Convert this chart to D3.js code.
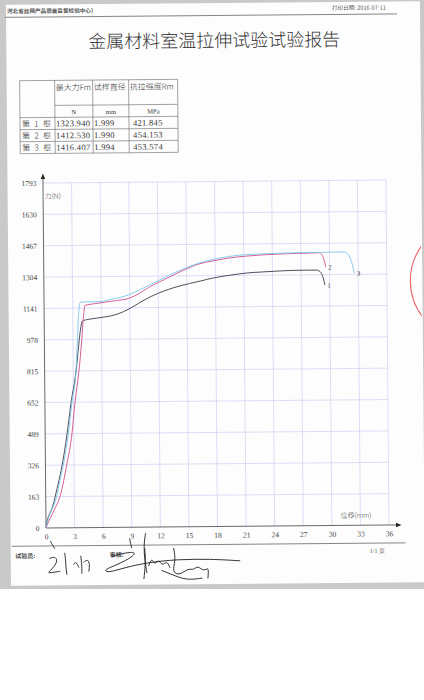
<!DOCTYPE html>
<html>
<head>
<meta charset="utf-8">
<script src="https://cdn.jsdelivr.net/npm/d3@7"></script>
<style>
  body { margin: 0; background: #fff; }
  svg { display: block; }
</style>
</head>
<body>
<div id="chart"></div>
<script>
// ---- data ----
var forceTicks = [0, 163, 326, 489, 652, 815, 978, 1141, 1304, 1467, 1630, 1793];
var dispTicks = [0, 3, 6, 9, 12, 15, 18, 21, 24, 27, 30, 33, 36];

var specimens = ["第 1 根", "第 2 根", "第 3 根"];
var maxForce = ["1323.940", "1412.530", "1416.407"];
var diameter = ["1.999", "1.990", "1.994"];
var strength = ["421.845", "454.153", "453.574"];
var headers = ["最大力Fm", "试样直径", "抗拉强度Rm"];
var units = ["N", "mm", "MPa"];

// displacement (mm), force (N)
var curve1 = [[0,0],[0.15,40],[0.4,75],[0.6,95],[0.8,125],[1.0,165],[1.4,245],[1.75,326],[2.3,489],[2.75,652],[3.3,815],[3.6,950],[3.85,1045],[4.0,1074],[4.6,1082],[5.5,1088],[6.5,1095],[7.4,1104],[8.3,1120],[9.3,1145],[10.5,1180],[12,1215],[14.2,1251],[16.4,1276],[17.7,1291],[19.5,1305],[21.3,1316],[23,1321],[24.7,1325],[27,1328],[28.6,1328],[29.0,1320],[29.3,1290],[29.5,1250]];
var curve2 = [[0,0],[0.3,35],[0.7,75],[1.1,115],[1.5,163],[1.9,245],[2.23,326],[2.81,489],[3.16,652],[3.6,815],[3.93,978],[4.13,1100],[4.29,1155],[4.8,1160],[5.86,1167],[7.5,1178],[8.99,1191],[10,1215],[11.1,1248],[13.2,1299],[14.5,1330],[16.3,1365],[17.7,1380],[19.5,1395],[21.3,1404],[24.7,1413],[28.1,1417],[28.9,1418],[29.25,1405],[29.45,1375],[29.6,1344]];
var curve3 = [[0,0],[0.25,50],[0.55,85],[0.85,120],[1.15,163],[1.5,245],[1.87,326],[2.43,489],[2.84,652],[3.29,815],[3.47,978],[3.62,1110],[3.77,1170],[4.3,1173],[5.85,1174],[7,1185],[8,1195],[9,1210],[10,1232],[11.1,1258],[13.2,1309],[14.5,1337],[16.3,1370],[17.7,1387],[19.5,1403],[21.3,1412],[24.7,1417],[28.1,1420],[29.2,1420],[31.5,1421],[31.95,1410],[32.3,1370],[32.6,1311]];

var series = [
  {name: "1", values: curve1, colour: "#3c3c4c"},
  {name: "2", values: curve2, colour: "#d2508c"},
  {name: "3", values: curve3, colour: "#7cc6ea"}
];

var width = 424;
var height = 700;
var cjk = "'Noto Sans CJK SC', sans-serif";
var serif = "'Liberation Serif', 'DejaVu Serif', serif";

var svg = d3.select("#chart").append("svg")
    .attr("width", width)
    .attr("height", height);

// scanner bed + slightly skewed sheet
svg.append("rect")
    .attr("x", 0).attr("y", 0)
    .attr("width", width).attr("height", 589)
    .attr("fill", "#c9c9c9");

var page = svg.append("g")
    .attr("transform", "rotate(-0.5,216,355)");

page.append("rect")
    .attr("x", 9).attr("y", 3)
    .attr("width", 414).attr("height", 581)
    .attr("fill", "#fdfdfd");

// ---- header ----
page.append("text")
    .attr("x", 10).attr("y", 11.5)
    .style("font-family", cjk).style("font-size", "5.6px").style("font-weight", "bold")
    .attr("fill", "#555")
    .text("河北省丝网产品质量监督检验中心)");

page.append("text")
    .attr("x", 335).attr("y", 11)
    .style("font-family", cjk).style("font-size", "5.6px")
    .attr("fill", "#555")
    .text("打印日期: 2016-07-11");

page.append("line")
    .attr("x1", 8).attr("x2", 400)
    .attr("y1", 15.5).attr("y2", 15.5)
    .attr("stroke", "#666").attr("stroke-width", 0.8);

page.append("text")
    .attr("x", 217).attr("y", 47)
    .attr("text-anchor", "middle")
    .style("font-family", cjk).style("font-size", "18px").style("font-weight", "300")
    .attr("fill", "#333")
    .text("金属材料室温拉伸试验试验报告");

// ---- result table ----
var colX = [22, 57, 95, 131, 180];
var rowY = [79, 104, 116, 128, 140, 152];
var table = page.append("g");

table.selectAll("line.h")
    .data(rowY)
    .enter().append("line")
    .attr("class", "h")
    .attr("x1", function(d, i){ return i == 1 ? colX[1] : colX[0]; })
    .attr("x2", colX[4])
    .attr("y1", function(d){ return d; })
    .attr("y2", function(d){ return d; })
    .attr("stroke", "#666").attr("stroke-width", 0.6);

table.selectAll("line.v")
    .data(colX)
    .enter().append("line")
    .attr("class", "v")
    .attr("x1", function(d){ return d; })
    .attr("x2", function(d){ return d; })
    .attr("y1", rowY[0]).attr("y2", rowY[5])
    .attr("stroke", "#666").attr("stroke-width", 0.6);

table.selectAll("text.head")
    .data(headers)
    .enter().append("text")
    .attr("class", "head")
    .attr("x", function(d, i){ return colX[i + 1] + 1; })
    .attr("y", 89)
    .style("font-family", cjk).style("font-size", "8px").style("font-weight", "300")
    .attr("fill", "#333")
    .text(function(d){ return d; });

table.selectAll("text.unit")
    .data(units)
    .enter().append("text")
    .attr("class", "unit")
    .attr("x", function(d, i){ return (colX[i + 1] + colX[i + 2]) / 2; })
    .attr("y", 113)
    .attr("text-anchor", "middle")
    .style("font-family", serif).style("font-size", "6.5px")
    .attr("fill", "#333")
    .text(function(d){ return d; });

var rows = specimens.map(function(s, i){
    return [s, maxForce[i], diameter[i], strength[i]];
});

rows.forEach(function(r, i){
    var yy = rowY[i + 2] + 9;
    r.forEach(function(v, j){
        table.append("text")
            .attr("x", j == 0 ? colX[0] + 2 : colX[j] + (j == 3 ? 4 : 1))
            .attr("y", yy)
            .style("font-family", j == 0 ? cjk : serif)
            .style("font-weight", j == 0 ? "300" : "normal")
            .style("font-size", j == 0 ? "8px" : "8.5px")
            .style("letter-spacing", j == 0 ? "1.3px" : "0.3px")
            .attr("fill", "#333")
            .text(v);
    });
});

// ---- chart ----
var x_scale = d3.scaleLinear().domain([0, 36]).range([44.5, 387.5]);
var y_scale = d3.scaleLinear().domain([0, 1793]).range([526.5, 181.5]);

var grid = page.append("g");
grid.selectAll("line.hg")
    .data(forceTicks.slice(1))
    .enter().append("line")
    .attr("class", "hg")
    .attr("x1", x_scale(0)).attr("x2", x_scale(36))
    .attr("y1", function(d){ return y_scale(d); })
    .attr("y2", function(d){ return y_scale(d); })
    .attr("stroke", "#cdd0f0").attr("stroke-width", 0.7);

grid.selectAll("line.vg")
    .data(dispTicks.slice(1))
    .enter().append("line")
    .attr("class", "vg")
    .attr("x1", function(d){ return x_scale(d); })
    .attr("x2", function(d){ return x_scale(d); })
    .attr("y1", y_scale(0)).attr("y2", y_scale(1793))
    .attr("stroke", "#cdd0f0").attr("stroke-width", 0.7);

var y_axis = d3.axisLeft(y_scale).tickValues(forceTicks).tickFormat(d3.format("d")).tickSize(0).tickPadding(6.5);
var x_axis = d3.axisBottom(x_scale).tickValues(dispTicks).tickFormat(d3.format("d")).tickSize(0).tickPadding(6);

var gy = page.append("g")
    .attr("transform", "translate(" + x_scale(0) + ",0)")
    .call(y_axis);
var gx = page.append("g")
    .attr("transform", "translate(0," + y_scale(0) + ")")
    .call(x_axis);

[gx, gy].forEach(function(g){
    g.select(".domain").remove();
    g.selectAll("text")
        .style("font-family", serif)
        .style("font-size", "7.5px")
        .attr("fill", "#444");
});

// axis lines with arrow heads
page.append("line")
    .attr("x1", x_scale(0)).attr("x2", x_scale(0))
    .attr("y1", y_scale(0)).attr("y2", 176)
    .attr("stroke", "#444").attr("stroke-width", 0.8);
page.append("path")
    .attr("d", "M" + x_scale(0) + ",172 l-2.2,5.5 h4.4 z")
    .attr("fill", "#222");

page.append("line")
    .attr("x1", x_scale(0)).attr("x2", 395)
    .attr("y1", y_scale(0)).attr("y2", y_scale(0))
    .attr("stroke", "#444").attr("stroke-width", 0.8);
page.append("path")
    .attr("d", "M400," + y_scale(0) + " l-5.5,-2.2 v4.4 z")
    .attr("fill", "#222");

page.append("text")
    .attr("x", 46).attr("y", 197)
    .style("font-family", cjk).style("font-size", "7px").style("font-weight", "300")
    .attr("fill", "#444")
    .text("力(N)");

page.append("text")
    .attr("x", 339).attr("y", 519)
    .style("font-family", cjk).style("font-size", "7px").style("font-weight", "300")
    .attr("fill", "#444")
    .text("位移(mm)");

var line = d3.line()
    .x(function(d){ return x_scale(d[0]); })
    .y(function(d){ return y_scale(d[1]); })
    .curve(d3.curveMonotoneX);

page.selectAll("path.curve")
    .data(series)
    .enter().append("path")
    .attr("class", "curve")
    .attr("d", function(d){ return line(d.values); })
    .attr("fill", "none")
    .attr("stroke", function(d){ return d.colour; })
    .attr("stroke-width", 0.9);

page.selectAll("text.curve-label")
    .data(series)
    .enter().append("text")
    .attr("class", "curve-label")
    .attr("x", function(d){ return x_scale(d.values[d.values.length - 1][0]) + 2.5; })
    .attr("y", function(d){ return y_scale(d.values[d.values.length - 1][1]) + 2.5; })
    .style("font-family", serif).style("font-size", "6.5px")
    .attr("fill", "#333")
    .text(function(d){ return d.name; });

// ---- footer ----
page.append("line")
    .attr("x1", 10).attr("x2", 404)
    .attr("y1", 544.5).attr("y2", 544.5)
    .attr("stroke", "#666").attr("stroke-width", 0.8);

page.append("text")
    .attr("x", 13.5).attr("y", 556.5)
    .style("font-family", cjk).style("font-size", "6px").style("font-weight", "bold")
    .attr("fill", "#444")
    .text("试验员:");

page.append("text")
    .attr("x", 108).attr("y", 556)
    .style("font-family", cjk).style("font-size", "6px").style("font-weight", "bold")
    .attr("fill", "#444")
    .text("审核:");

page.append("text")
    .attr("x", 368).attr("y", 554)
    .style("font-family", serif).style("font-size", "6px")
    .attr("fill", "#555")
    .text("1/1 页");

// handwritten signatures (rough strokes)
var pen = d3.line().curve(d3.curveBasis);
var strokes = [
  [[48,557],[53,555],[56,559],[52,566],[45,572],[50,571],[58,570]],
  [[63,552],[64,560],[64,566],[65,573]],
  [[72,563],[74,560],[77,566]],
  [[79,555],[80,563],[80,572]],
  [[82,561],[86,558],[88,563],[87,570]],
  [[49,540],[51,544],[53,547]],
  [[128,538],[129,543],[130,547]],
  [[144,533],[142,545],[143,560],[145,572]],
  [[110,556],[122,552],[136,551],[128,558],[110,566],[102,569],[106,572],[122,567],[145,562],[175,559],[210,559],[238,561]],
  [[143,548],[144,560],[142,578]],
  [[147,565],[150,557],[153,565],[157,558],[160,566],[165,560],[168,567]],
  [[172,548],[174,560],[170,572],[178,575],[186,568],[192,570],[196,565],[202,572],[207,566],[206,578]],
  [[160,570],[172,575],[185,580],[200,578]]
];
page.selectAll("path.sig")
    .data(strokes)
    .enter().append("path")
    .attr("class", "sig")
    .attr("d", function(d){ return pen(d); })
    .attr("fill", "none")
    .attr("stroke", "#1e1e24")
    .attr("stroke-width", 0.9)
    .attr("stroke-linecap", "round");

// red seal at the right edge, cut by the sheet
page.append("clipPath").attr("id", "sheet")
    .append("rect").attr("x", 9).attr("y", 3).attr("width", 413).attr("height", 581);
page.append("circle")
    .attr("cx", 470).attr("cy", 283).attr("r", 59)
    .attr("fill", "none")
    .attr("stroke", "#e8686c")
    .attr("stroke-width", 1.1)
    .attr("clip-path", "url(#sheet)");
</script>
</body>
</html>
